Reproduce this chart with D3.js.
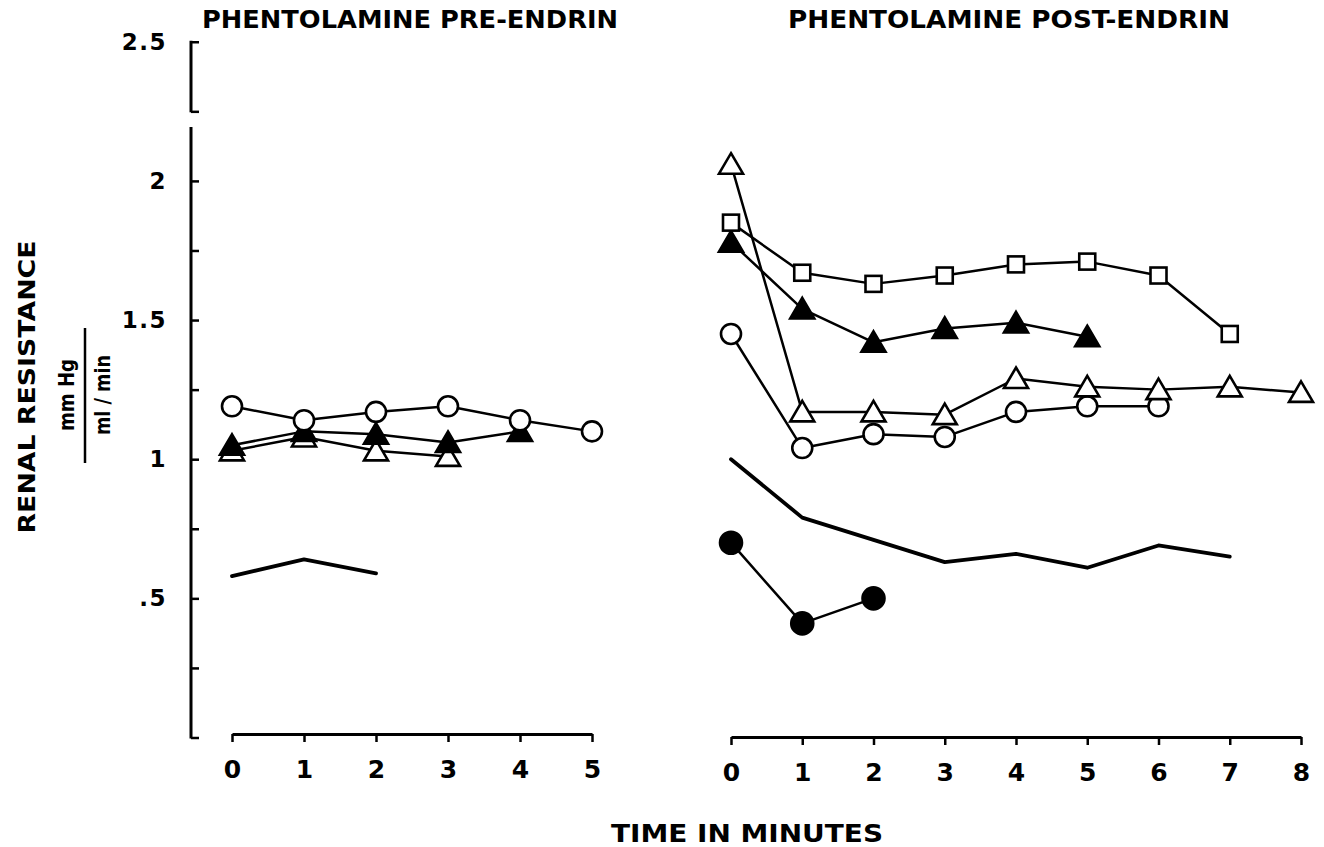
<!DOCTYPE html>
<html><head><meta charset="utf-8">
<script src="https://cdn.jsdelivr.net/npm/d3@7"></script>
<style>body{margin:0;background:#fff;} svg{display:block}</style>
</head><body><svg id="c" width="1324" height="847"></svg>
<script>
// ---- data ----
const preMinutes = [0, 1, 2, 3, 4, 5];
const postMinutes = [0, 1, 2, 3, 4, 5, 6, 7, 8];
const preOpenCircle     = [1.19, 1.14, 1.17, 1.19, 1.14, 1.10];
const preFilledTriangle = [1.05, 1.10, 1.09, 1.06, 1.10];
const preOpenTriangle   = [1.03, 1.08, 1.03, 1.01];
const prePlain          = [0.58, 0.64, 0.59];
const postOpenTriangle   = [2.06, 1.17, 1.17, 1.16, 1.29, 1.26, 1.25, 1.26, 1.24];
const postOpenSquare     = [1.85, 1.67, 1.63, 1.66, 1.70, 1.71, 1.66, 1.45];
const postFilledTriangle = [1.78, 1.54, 1.42, 1.47, 1.49, 1.44];
const postOpenCircle     = [1.45, 1.04, 1.09, 1.08, 1.17, 1.19, 1.19];
const postPlain          = [1.00, 0.79, 0.71, 0.63, 0.66, 0.61, 0.69, 0.65];
const postFilledCircle   = [0.70, 0.41, 0.50];
const yTickValues = [0, 0.25, 0.5, 0.75, 1, 1.25, 1.5, 1.75, 2, 2.25, 2.5];
const yTickLabels = {0.5: ".5", 1: "1", 1.5: "1.5", 2: "2", 2.5: "2.5"};
const titles = ["PHENTOLAMINE PRE-ENDRIN", "PHENTOLAMINE POST-ENDRIN"];
const xTitle = "TIME IN MINUTES";
const yTitle = "RENAL RESISTANCE";
const yUnitTop = "mm Hg";
const yUnitBottom = "ml / min";

// ---- scales ----
const svg = d3.select("#c");
const y = d3.scaleLinear().domain([0, 2.5]).range([737.5, 41.75]);
const xPre = d3.scaleLinear().domain([0, 5]).range([232, 592]);
const xPost = d3.scaleLinear().domain([0, 8]).range([731, 1301]);
const axisX = 191;

const numFont = "'DejaVu Sans', sans-serif";
const narrowFont = "'DejaVu Sans Condensed', 'Liberation Sans Narrow', 'DejaVu Sans', sans-serif";

// ---- y axis ----
const yAxis = d3.axisLeft(y).tickValues(yTickValues).tickSizeInner(-8).tickSizeOuter(0)
  .tickPadding(24).tickFormat(d => yTickLabels[d] || "");
const gy = svg.append("g").attr("transform", `translate(${axisX},0)`).call(yAxis);
gy.select(".domain").remove();
gy.selectAll(".tick line").attr("stroke", "#000").attr("stroke-width", 2.5);
gy.selectAll(".tick text").attr("font-family", numFont).attr("font-weight", "bold")
  .attr("font-size", 23).attr("fill", "#000").attr("letter-spacing", 1.5);
const yBreak = [[2.5, 2.25], [2.19, 0]];
yBreak.forEach(seg => {
  svg.append("line").attr("x1", axisX).attr("x2", axisX)
    .attr("y1", y(seg[0]) - 1).attr("y2", y(seg[1]) + 1)
    .attr("stroke", "#000").attr("stroke-width", 3);
});

// ---- x axes ----
function xAxis(scale, ticks, ty) {
  const g = svg.append("g").attr("transform", `translate(0,${ty})`)
    .call(d3.axisBottom(scale).tickValues(ticks).tickSize(8).tickSizeOuter(0).tickPadding(18).tickFormat(d3.format("d")));
  g.select(".domain").attr("stroke", "#000").attr("stroke-width", 3);
  g.selectAll(".tick line").attr("stroke", "#000").attr("stroke-width", 2.5);
  g.selectAll(".tick text").attr("font-family", numFont).attr("font-weight", "bold")
    .attr("font-size", 25).attr("fill", "#000");
}
xAxis(xPre, preMinutes, 734);
xAxis(xPost, postMinutes, 737);

// ---- titles ----
function title(x, yy, len, txt) {
  svg.append("text").attr("x", x).attr("y", yy).attr("textLength", len).attr("lengthAdjust", "spacingAndGlyphs")
    .attr("font-family", narrowFont).attr("font-weight", "bold").attr("font-size", 25).text(txt);
}
title(202, 28, 416, titles[0]);
title(788, 28, 442, titles[1]);
title(611, 842, 272, xTitle);

// y title + unit fraction
svg.append("text").attr("transform", "translate(27,387) rotate(-90)").attr("text-anchor", "middle").attr("dy", "0.36em")
  .attr("textLength", 293).attr("lengthAdjust", "spacingAndGlyphs")
  .attr("font-family", numFont).attr("font-weight", "bold").attr("font-size", 23).text(yTitle);
svg.append("text").attr("transform", "translate(66,395) rotate(-90)").attr("text-anchor", "middle").attr("dy", "0.36em")
  .attr("textLength", 72).attr("lengthAdjust", "spacingAndGlyphs")
  .attr("font-family", numFont).attr("font-weight", "bold").attr("font-size", 21).text(yUnitTop);
svg.append("line").attr("x1", 85).attr("x2", 85).attr("y1", 328).attr("y2", 463)
  .attr("stroke", "#000").attr("stroke-width", 2.5);
svg.append("text").attr("transform", "translate(102,395) rotate(-90)").attr("text-anchor", "middle").attr("dy", "0.36em")
  .attr("textLength", 80).attr("lengthAdjust", "spacingAndGlyphs")
  .attr("font-family", numFont).attr("font-weight", "bold").attr("font-size", 21).text(yUnitBottom);

// ---- series ----
const series = [
  {x: xPre, v: prePlain, m: null},
  {x: xPre, v: preOpenTriangle, m: "tri", fill: false},
  {x: xPre, v: preFilledTriangle, m: "tri", fill: true},
  {x: xPre, v: preOpenCircle, m: "circle", fill: false},
  {x: xPost, v: postPlain, m: null},
  {x: xPost, v: postFilledCircle, m: "circle", fill: true},
  {x: xPost, v: postOpenCircle, m: "circle", fill: false},
  {x: xPost, v: postOpenTriangle, m: "tri", fill: false},
  {x: xPost, v: postFilledTriangle, m: "tri", fill: true},
  {x: xPost, v: postOpenSquare, m: "square", fill: false}
];

series.forEach(s => {
  const pts = s.v.map((d, i) => [s.x(i), y(d)]);
  svg.append("path").attr("d", d3.line()(pts)).attr("fill", "none").attr("stroke", "#000")
    .attr("stroke-width", s.m ? 2.5 : 3.8).attr("stroke-linejoin", "round").attr("stroke-linecap", "round");
});

series.forEach(s => {
  if (!s.m) return;
  const g = svg.append("g");
  s.v.forEach((d, i) => {
    const cx = s.x(i), cy = y(d);
    let el;
    if (s.m === "circle") {
      el = g.append("circle").attr("cx", cx).attr("cy", cy).attr("r", s.fill ? 11 : 10);
    } else if (s.m === "tri") {
      el = g.append("path").attr("d", `M${cx},${cy - 11}L${cx + 12},${cy + 9.5}L${cx - 12},${cy + 9.5}Z`);
    } else {
      el = g.append("rect").attr("x", cx - 8).attr("y", cy - 8).attr("width", 16).attr("height", 16);
    }
    el.attr("fill", s.fill ? "#000" : "#fff").attr("stroke", "#000").attr("stroke-width", 2.6)
      .attr("stroke-linejoin", "miter");
  });
});
</script></body></html>
